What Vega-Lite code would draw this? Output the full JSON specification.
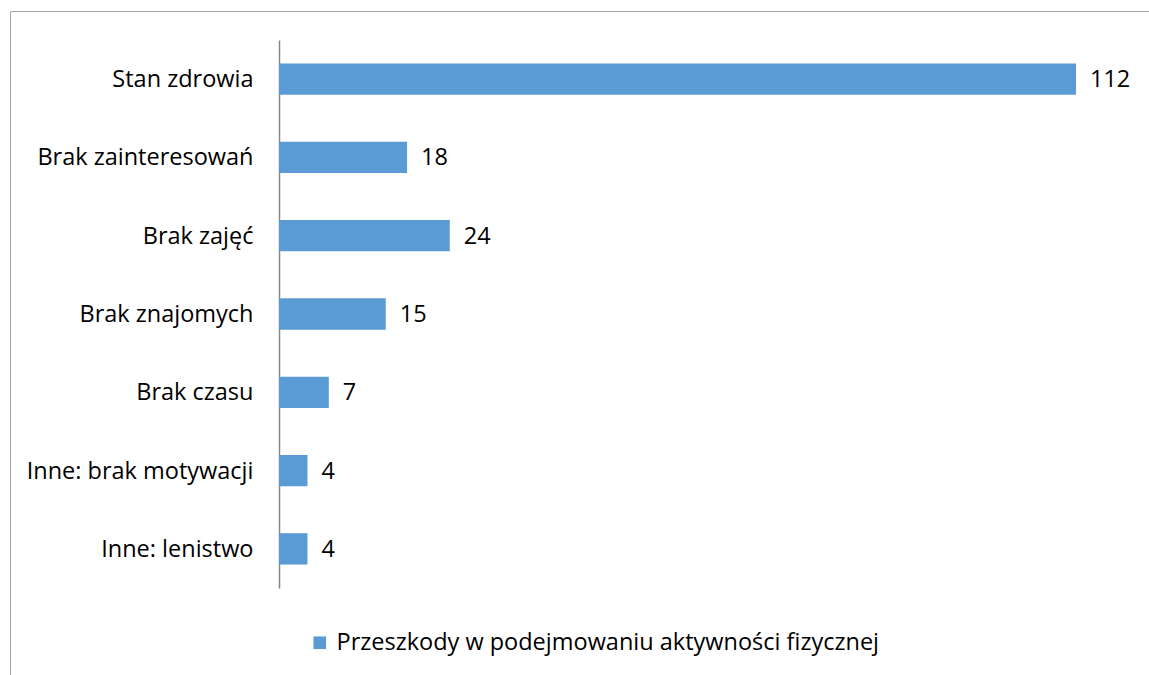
{
  "$schema": "https://vega.github.io/schema/vega-lite/v6.json",
  "width": 1160,
  "height": 690,
  "autosize": {"type": "none"},
  "padding": {"left": 10, "top": 11, "right": 0, "bottom": 0},
  "background": "white",
  "config": {
    "view": {"stroke": "#a6a6a6", "strokeWidth": 1},
    "font": "Open Sans"
  },
  "data": {
    "values": [
      {"kategoria": "Stan zdrowia", "liczba": 112, "seria": "Przeszkody w podejmowaniu aktywności fizycznej"},
      {"kategoria": "Brak zainteresowań", "liczba": 18, "seria": "Przeszkody w podejmowaniu aktywności fizycznej"},
      {"kategoria": "Brak zajęć", "liczba": 24, "seria": "Przeszkody w podejmowaniu aktywności fizycznej"},
      {"kategoria": "Brak znajomych", "liczba": 15, "seria": "Przeszkody w podejmowaniu aktywności fizycznej"},
      {"kategoria": "Brak czasu", "liczba": 7, "seria": "Przeszkody w podejmowaniu aktywności fizycznej"},
      {"kategoria": "Inne: brak motywacji", "liczba": 4, "seria": "Przeszkody w podejmowaniu aktywności fizycznej"},
      {"kategoria": "Inne: lenistwo", "liczba": 4, "seria": "Przeszkody w podejmowaniu aktywności fizycznej"}
    ]
  },
  "encoding": {
    "y": {
      "field": "kategoria",
      "type": "nominal",
      "sort": null,
      "scale": {"range": [29, 577], "paddingInner": 0.6, "paddingOuter": 0.3},
      "axis": {
        "title": null,
        "offset": -269,
        "ticks": false,
        "domainColor": "#868686",
        "domainWidth": 1.5,
        "labelFont": "Open Sans",
        "labelFontSize": 23.5,
        "labelColor": "#000000",
        "labelPadding": 26,
        "labelOffset": 1,
        "labelLimit": 400
      }
    },
    "x": {
      "field": "liczba",
      "type": "quantitative",
      "scale": {"domain": [0, 112], "range": [269, 1066], "nice": false, "zero": true},
      "axis": null
    }
  },
  "layer": [
    {
      "mark": {"type": "bar"},
      "encoding": {
        "color": {
          "field": "seria",
          "type": "nominal",
          "scale": {"range": ["#5B9BD5"]},
          "legend": {
            "title": null,
            "orient": "none",
            "legendX": 298,
            "legendY": 620,
            "symbolType": "square",
            "symbolSize": 160,
            "symbolStrokeWidth": 0,
            "labelFont": "Open Sans",
            "labelFontSize": 23.5,
            "labelColor": "#000000",
            "labelOffset": 5,
            "labelLimit": 800
          }
        }
      }
    },
    {
      "mark": {"type": "text", "align": "left", "baseline": "middle", "dx": 14, "dy": 1, "font": "Open Sans", "fontSize": 23.5, "color": "#000000"},
      "encoding": {
        "text": {"field": "liczba", "type": "quantitative"}
      }
    }
  ]
}
